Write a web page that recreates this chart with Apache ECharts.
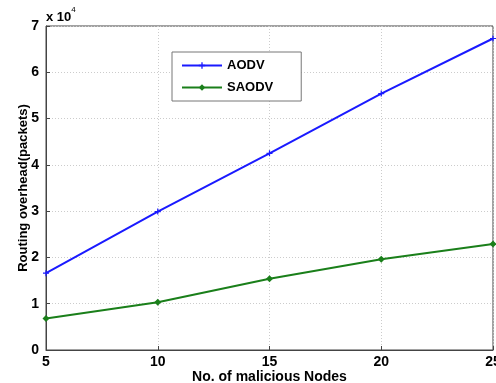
<!DOCTYPE html>
<html>
<head>
<meta charset="utf-8">
<script src="https://cdn.jsdelivr.net/npm/echarts@6/dist/echarts.min.js"></script>
<style>
  html, body { margin: 0; padding: 0; background: #fff; }
  #chart { width: 496px; height: 383px; }
</style>
</head>
<body>
<div id="chart"></div>
<script>
var nodes = [5, 10, 15, 20, 25];
var aodv = [16600, 29900, 42500, 55400, 67300];
var saodv = [6800, 10300, 15400, 19600, 22900];

var chartDom = document.getElementById("chart");
var myChart = echarts.init(chartDom);
var option;

var font = "Liberation Sans";
var plusPath = "path://M4,0H6V4H10V6H6V10H4V6H0V4H4Z";

option = {
  animation: false,
  backgroundColor: "#fff",
  textStyle: { fontFamily: font },
  grid: {
    left: 46, right: 3, top: 26, bottom: 33,
    outerBoundsMode: "none",
    show: true, borderColor: "#444", borderWidth: 1
  },
  legend: {
    orient: "vertical",
    left: 172, top: 52,
    padding: [7, 28, 7, 9],
    itemGap: 9,
    itemWidth: 40, itemHeight: 8,
    backgroundColor: "#fff",
    borderColor: "#777", borderWidth: 1,
    textStyle: { fontFamily: font, fontWeight: "bold", fontSize: 13, color: "#000" },
    data: ["AODV", "SAODV"]
  },
  xAxis: {
    type: "value",
    min: 5, max: 25, interval: 5,
    name: "No. of malicious Nodes",
    nameLocation: "middle", nameGap: 20,
    nameMoveOverlap: false,
    nameTextStyle: { fontFamily: font, fontWeight: "bold", fontSize: 14, color: "#000" },
    axisLine: { show: true, lineStyle: { color: "#444" } },
    axisTick: { show: true, inside: true, length: 4, lineStyle: { color: "#444" } },
    axisLabel: { fontFamily: font, fontWeight: "bold", fontSize: 14, color: "#000", margin: 5 },
    splitLine: { show: true, lineStyle: { color: "#ccc", type: [1, 2] } }
  },
  yAxis: {
    type: "value",
    min: 0, max: 70000, interval: 10000,
    name: "Routing overhead(packets)",
    nameLocation: "middle", nameGap: 16,
    nameMoveOverlap: false,
    nameTextStyle: { fontFamily: font, fontWeight: "bold", fontSize: 13, color: "#000" },
    axisLine: { show: true, lineStyle: { color: "#444" } },
    axisTick: { show: true, inside: true, length: 4, lineStyle: { color: "#444" } },
    axisLabel: {
      fontFamily: font, fontWeight: "bold", fontSize: 14, color: "#000", margin: 7,
      formatter: function (v) { return String(v / 10000); }
    },
    splitLine: { show: true, lineStyle: { color: "#ccc", type: [1, 2] } }
  },
  graphic: [
    {
      type: "text", left: 46, top: 6,
      style: {
        text: "{a|x 10}{b|4}",
        rich: {
          a: { fontFamily: font, fontWeight: "bold", fontSize: 13, fill: "#000", padding: [5, 0, 0, 0] },
          b: { fontFamily: font, fontSize: 8, fill: "#000", verticalAlign: "top" }
        }
      }
    }
  ],
  series: [
    {
      name: "AODV",
      type: "line",
      data: nodes.map(function (x, i) { return [x, aodv[i]]; }),
      symbol: plusPath, symbolSize: 6,
      lineStyle: { color: "#1a1aff", width: 2 },
      itemStyle: { color: "#1a1aff" }
    },
    {
      name: "SAODV",
      type: "line",
      data: nodes.map(function (x, i) { return [x, saodv[i]]; }),
      symbol: "diamond", symbolSize: 7,
      lineStyle: { color: "#1a7f1a", width: 2 },
      itemStyle: { color: "#1a7f1a" }
    }
  ]
};

option && myChart.setOption(option);
</script>
</body>
</html>
